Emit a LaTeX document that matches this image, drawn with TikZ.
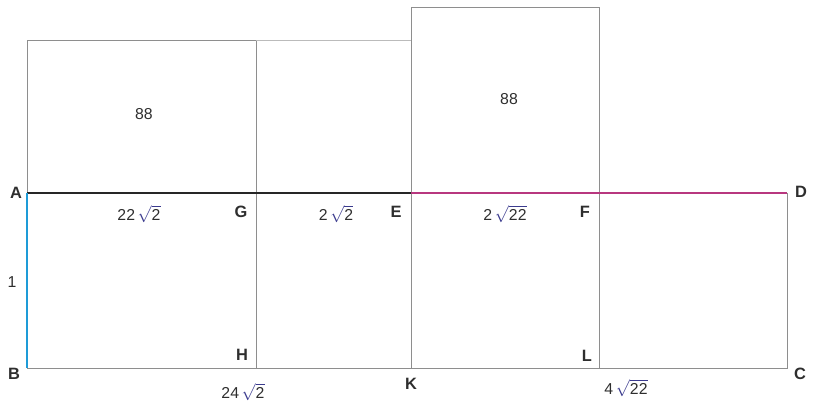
\documentclass[tikz,border=0pt]{standalone}
\usepackage{fontspec}
\setmainfont{Liberation Sans}
\usetikzlibrary{positioning}
\definecolor{edgegray}{HTML}{8E8E8E}
\definecolor{sideblue}{HTML}{1E9BD7}
\definecolor{topmagenta}{HTML}{B8377F}
\definecolor{labelgray}{HTML}{2E2E2E}
\definecolor{radnavy}{HTML}{3B3B8E}
\tikzstyle{edge} = [draw=edgegray, line width=0.8pt]
\tikzstyle{faint} = [draw=edgegray!60, line width=0.8pt]
\tikzstyle{pt} = [font=\fontsize{14}{16}\selectfont\bfseries, text=labelgray, inner sep=0pt]
\tikzstyle{len} = [font=\fontsize{13.5}{15}\selectfont, text=labelgray, inner sep=0pt]
\newcommand{\rt}[1]{\textcolor{radnavy}{$\sqrt{\textcolor{labelgray}{\mbox{#1}}}$}}

\begin{document}
\begin{tikzpicture}[x=0.03cm, y=-0.03cm]
    \useasboundingbox (0,0) rectangle (814,407);
    % Corner Definitions
    \coordinate (A) at (27,193);
    \coordinate (G) at (256,193);
    \coordinate (E) at (411,193);
    \coordinate (F) at (599,193);
    \coordinate (D) at (787,193);
    \coordinate (B) at (27,368);
    \coordinate (H) at (256,368);
    \coordinate (K) at (411,368);
    \coordinate (L) at (599,368);
    \coordinate (C) at (787,368);
    \coordinate (ta) at (27,40);
    \coordinate (tg) at (256,40);
    \coordinate (te) at (411,40);
    \coordinate (ue) at (411,7);
    \coordinate (uf) at (599,7);

    % Grey Outline
    \draw [edge] (B) -- (C) -- (D);
    \draw [edge] (G) -- (H);
    \draw [edge] (ue) -- (K);
    \draw [edge] (F) -- (L);
    \draw [edge] (A) -- (ta) -- (tg) -- (G);
    \draw [faint] (tg) -- (te);
    \draw [edge] (ue) -- (uf) -- (F);

    % Coloured Sides
    \draw [line width=2.4pt, black!85] (A) -- (E);
    \draw [line width=2.2pt, topmagenta] (E) -- (D);
    \draw [line width=2.4pt, sideblue] (A) -- (B);

    % Point Labels
    \node [pt] (lA) at (16,193) {A};
    \node [pt] (lB) at (14,374) {B};
    \node [pt] (lC) at (800,374) {C};
    \node [pt] (lD) at (801,192) {D};
    \node [pt] (lG) at (241,212) {G};
    \node [pt] (lE) at (396,212) {E};
    \node [pt] (lF) at (585,212) {F};
    \node [pt] (lH) at (242,355) {H};
    \node [pt] (lK) at (411,384) {K};
    \node [pt] (lL) at (587,356) {L};

    % Lengths and Areas
    \node [len] (one) at (12,282) {1};
    \node [len] (ag) at (139,214) {22\,\rt{2}};
    \node [len] (ge) at (336,214) {2\,\rt{2}};
    \node [len] (ef) at (505,214) {2\,\rt{22}};
    \node [len] (bk) at (243,392) {24\,\rt{2}};
    \node [len] (kc) at (626,388) {4\,\rt{22}};
    \node [len] (sqa) at (144,114) {88};
    \node [len] (sqb) at (509,99) {88};
\end{tikzpicture}
\end{document}
